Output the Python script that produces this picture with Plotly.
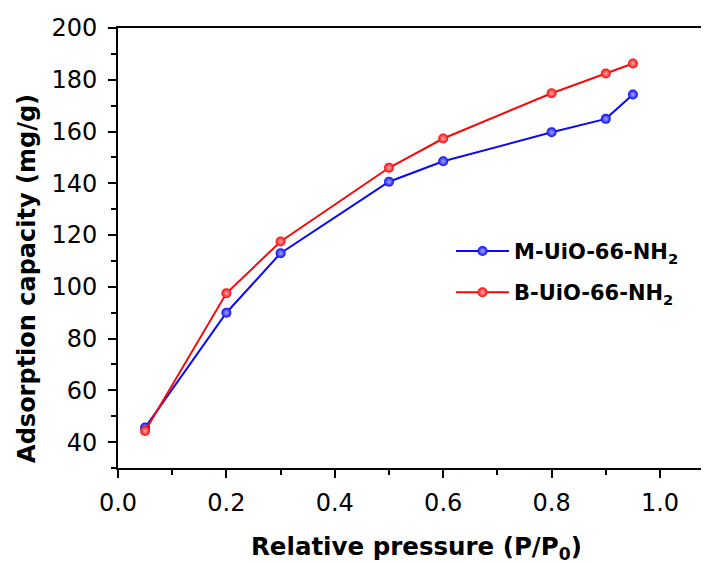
import plotly.graph_objects as go

pressure = [0.05, 0.2, 0.3, 0.5, 0.6, 0.8, 0.9, 0.95]
m_uio = [45.6, 90.0, 113.0, 140.6, 148.5, 159.7, 164.9, 174.3]
b_uio = [44.3, 97.5, 117.5, 146.0, 157.3, 174.8, 182.4, 186.3]
names = ["<b>M-UiO-66-NH<sub>2</sub></b>", "<b>B-UiO-66-NH<sub>2</sub></b>"]
x_title = "<b>Relative pressure (P/P<sub>0</sub>)</b>"
y_title = "<b>Adsorption capacity (mg/g)</b>"
colors = ["#0A0AF5", "#F50A0A"]
light = ["#a8a8ff", "#ffa8a8"]

FONT = "DejaVu Sans, Liberation Sans, Arial, sans-serif"

fig = go.Figure()
for i, ys in enumerate([m_uio, b_uio]):
    fig.add_trace(go.Scatter(
        x=pressure, y=ys, name=names[i], mode="lines+markers",
        legendgroup=str(i),
        line=dict(color=colors[i], width=2),
        marker=dict(size=10, color=colors[i],
                    gradient=dict(type="radial", color=light[i]),
                    line=dict(width=0)),
    ))

# page has an 8px body margin; figure sits at (8, 8)
W, H = 701, 555
L, R, T, B = 110, 0, 20, 95
fig.update_layout(
    width=W, height=H,
    margin=dict(l=L, r=R, t=T, b=B),
    paper_bgcolor="white", plot_bgcolor="white",
    font=dict(family=FONT, color="black"),
    showlegend=True,
    legend=dict(x=0.5635, y=0.539, xanchor="left", yanchor="top",
                bgcolor="rgba(0,0,0,0)", font=dict(size=21, color="black"),
                tracegroupgap=11, traceorder="grouped", itemwidth=53),
    xaxis=dict(
        range=[0, 1.0904], dtick=0.2, tick0=0, tickformat=".1f",
        showgrid=False, zeroline=False,
        showline=True, linecolor="black", linewidth=2, mirror=True,
        ticks="outside", ticklen=8, tickwidth=2, tickcolor="black",
        tickfont=dict(size=24), ticklabelstandoff=4,
        minor=dict(dtick=0.1, ticks="outside", ticklen=5, tickwidth=2, tickcolor="black"),
    ),
    yaxis=dict(
        range=[30, 200], dtick=20, tick0=0,
        showgrid=False, zeroline=False,
        showline=True, linecolor="black", linewidth=2, mirror=False,
        ticks="outside", ticklen=8, tickwidth=2, tickcolor="black",
        tickfont=dict(size=24), ticklabelstandoff=6,
        minor=dict(dtick=10, ticks="outside", ticklen=5, tickwidth=2, tickcolor="black"),
    ),
    annotations=[
        dict(text=x_title, xref="paper", yref="paper", x=0.505, y=-0.182,
             xanchor="center", yanchor="middle", showarrow=False,
             font=dict(size=24.5, family=FONT)),
        dict(text=y_title, xref="paper", yref="paper", x=-0.154, y=0.432,
             xanchor="center", yanchor="middle", showarrow=False, textangle=-90,
             font=dict(size=24, family=FONT)),
    ],
)
fig.write_html("out.html")
